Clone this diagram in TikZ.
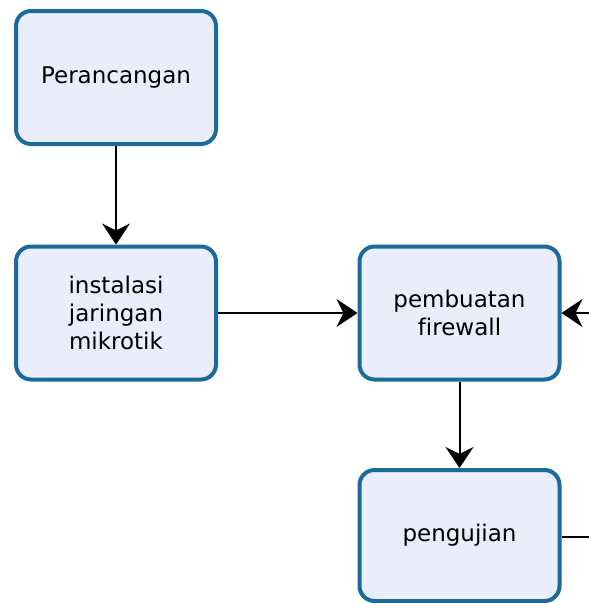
\documentclass[tikz,border=0pt]{standalone}
\usepackage{fontspec}
\setmainfont{DejaVu Sans}[Ligatures=NoCommon]
\usetikzlibrary{arrows.meta}

\definecolor{boxline}{HTML}{1B6A9A}
\definecolor{boxfill}{HTML}{EAEDFC}

\begin{document}
\begin{tikzpicture}[x=1pt,y=-1pt,
    stage/.style={draw=boxline, fill=boxfill, line width=4pt, rounded corners=15pt,
      minimum width=200pt, minimum height=133pt, inner sep=0pt, align=center,
      font=\fontsize{23}{28}\selectfont},
    flow/.style={line width=2pt, -{Stealth[length=21pt,width=28pt,inset=7pt]}}]
    \useasboundingbox (0,0) rectangle (589,603);
    \node[stage] (perancangan) at (116,77.5) {Perancangan}; % first step
    \node[stage] (instalasi) at (116,313) {instalasi\\jaringan\\mikrotik}; % second step
    \node[stage] (firewall) at (459.5,313) {pembuatan\\firewall}; % third step
    \node[stage, minimum height=131pt] (pengujian) at (459.5,535.5) {pengujian}; % test
    \coordinate (backin) at (589,313); % loop comes back in from the right
    \coordinate (backout) at (589,537); % loop leaves to the right
    \draw[flow] (perancangan) -- (instalasi);
    \draw[flow] (instalasi) -- (firewall);
    \draw[flow] (firewall) -- (pengujian);
    \draw[flow] (backin) -- (firewall.east);
    \draw[line width=2pt] (pengujian.east |- backout) -- (backout);
  \end{tikzpicture}
\end{document}
